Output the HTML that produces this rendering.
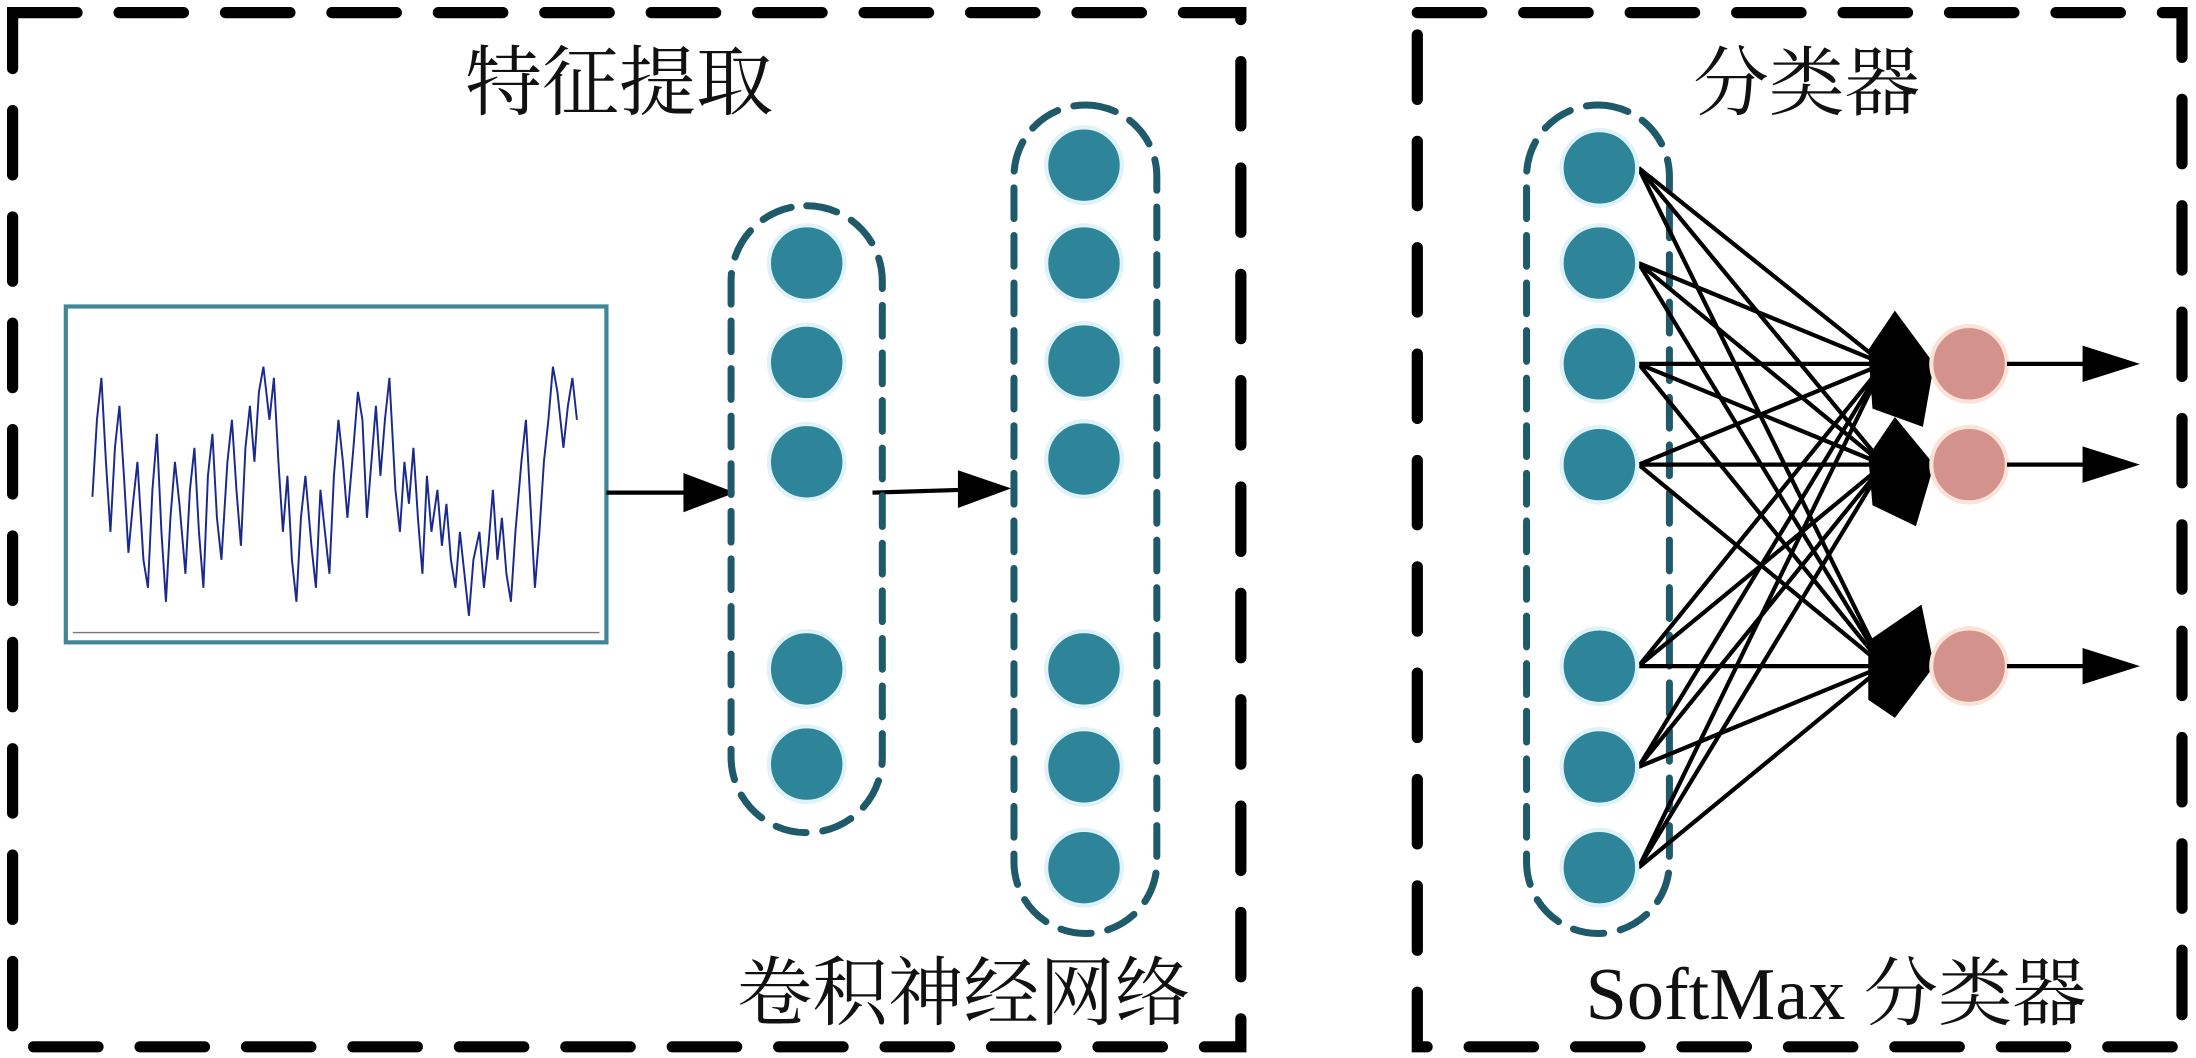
<!DOCTYPE html>
<html><head><meta charset="utf-8"><style>
html,body{margin:0;padding:0;background:#fff;}
svg{display:block;}
text{font-family:"Liberation Serif","Noto Serif CJK SC",serif;fill:#111;}
</style></head><body>
<svg width="2196" height="1058" viewBox="0 0 1568 756" preserveAspectRatio="none" xmlns="http://www.w3.org/2000/svg">
<rect x="0" y="0" width="1568" height="756" fill="#fff"/>
<rect x="9" y="9" width="877" height="739" fill="none" stroke="#000" stroke-width="8" stroke-dasharray="46 30" stroke-linecap="round"/>
<rect x="1012" y="9" width="546" height="739" fill="none" stroke="#000" stroke-width="8" stroke-dasharray="46 30" stroke-linecap="round"/>

<text x="442" y="78" font-size="55" text-anchor="middle">特征提取</text>
<text x="1290" y="78" font-size="54" text-anchor="middle">分类器</text>
<text x="688" y="728" font-size="54" text-anchor="middle">卷积神经网络</text>
<text x="1311" y="728" font-size="53" text-anchor="middle">SoftMax 分类器</text>

<rect x="47" y="219" width="386" height="240" fill="#fff" stroke="#3f8797" stroke-width="3"/>
<line x1="52" y1="452" x2="428" y2="452" stroke="#777" stroke-width="1"/>
<polyline transform="translate(66,0) scale(1.071,1) translate(-66,0)" fill="none" stroke="#1a2a8c" stroke-width="1.3" points="66,355 69,300 72,270 75,330 78,380 81,320 84,290 87,340 90,395 93,360 96,330 100,400 103,420 106,350 109,310 112,380 115,430 118,370 121,330 124,360 128,410 131,350 134,320 137,380 140,420 143,340 146,310 149,370 152,400 156,330 159,300 162,350 165,390 168,320 171,290 174,330 177,280 180,262 184,300 187,270 190,330 193,380 196,340 199,400 202,430 205,370 208,340 212,390 215,420 218,350 221,380 224,410 227,340 230,300 233,330 236,370 240,320 243,280 246,300 249,370 252,330 255,290 258,340 261,300 264,270 268,350 271,380 274,330 277,360 280,320 283,370 286,410 289,340 292,380 296,350 299,390 302,360 305,400 308,420 311,380 314,410 317,440 320,400 324,380 327,420 330,390 333,350 336,400 339,370 342,410 345,430 348,380 352,330 355,300 358,360 361,420 364,380 367,330 370,300 373,262 376,280 380,320 383,290 386,270 389,300"/>

<line x1="433" y1="352" x2="492" y2="352" stroke="#000" stroke-width="3"/>
<polygon points="488,338 525,352 488,366" fill="#000"/>
<line x1="623" y1="352" x2="688" y2="350" stroke="#000" stroke-width="3"/>
<polygon points="684,336 722,349 684,363" fill="#000"/>

<g fill="none" stroke="#1f5a6a" stroke-width="5" stroke-dasharray="22 12" stroke-linecap="round">
<rect x="522" y="147" width="108" height="448" rx="54"/>
<rect x="724" y="75" width="102" height="592" rx="51"/>
<rect x="1090" y="75" width="102" height="592" rx="51"/>
</g>

<g fill="#2e8499" stroke="#dff2f8" stroke-width="3">
<circle cx="576" cy="188" r="27"/><circle cx="576" cy="259" r="27"/><circle cx="576" cy="330" r="27"/>
<circle cx="576" cy="478" r="27"/><circle cx="576" cy="546" r="27"/>
<circle cx="774" cy="118" r="27"/><circle cx="774" cy="188" r="27"/><circle cx="774" cy="258" r="27"/><circle cx="774" cy="328" r="27"/>
<circle cx="774" cy="478" r="27"/><circle cx="774" cy="548" r="27"/><circle cx="774" cy="620" r="27"/>
</g>

<g stroke="#000" stroke-width="3">
<line x1="1170" y1="120" x2="1345" y2="260"/><line x1="1170" y1="120" x2="1345" y2="332"/><line x1="1170" y1="120" x2="1345" y2="476"/>
<line x1="1170" y1="188" x2="1345" y2="260"/><line x1="1170" y1="188" x2="1345" y2="332"/><line x1="1170" y1="188" x2="1345" y2="476"/>
<line x1="1170" y1="260" x2="1345" y2="260"/><line x1="1170" y1="260" x2="1345" y2="332"/><line x1="1170" y1="260" x2="1345" y2="476"/>
<line x1="1170" y1="332" x2="1345" y2="260"/><line x1="1170" y1="332" x2="1345" y2="332"/><line x1="1170" y1="332" x2="1345" y2="476"/>
<line x1="1170" y1="476" x2="1345" y2="260"/><line x1="1170" y1="476" x2="1345" y2="332"/><line x1="1170" y1="476" x2="1345" y2="476"/>
<line x1="1170" y1="548" x2="1345" y2="260"/><line x1="1170" y1="548" x2="1345" y2="332"/><line x1="1170" y1="548" x2="1345" y2="476"/>
<line x1="1170" y1="620" x2="1345" y2="260"/><line x1="1170" y1="620" x2="1345" y2="332"/><line x1="1170" y1="620" x2="1345" y2="476"/>
</g>

<g fill="#2e8499" stroke="#dff2f8" stroke-width="3">
<circle cx="1142" cy="120" r="27"/><circle cx="1142" cy="188" r="27"/><circle cx="1142" cy="260" r="27"/><circle cx="1142" cy="332" r="27"/>
<circle cx="1142" cy="476" r="27"/><circle cx="1142" cy="548" r="27"/><circle cx="1142" cy="620" r="27"/>
</g>

<g fill="#000">
<polygon points="1353,222 1381,260 1373,305 1337,292 1334,250"/>
<polygon points="1353,298 1381,332 1368,376 1337,361 1334,326"/>
<polygon points="1372,432 1381,476 1353,513 1334,500 1334,458"/>
</g>

<g fill="#d4928c" stroke="#fbe3d8" stroke-width="3">
<circle cx="1406" cy="260" r="27"/><circle cx="1406" cy="332" r="27"/><circle cx="1406" cy="476" r="27"/>
</g>

<g stroke="#000" stroke-width="3">
<line x1="1433" y1="260" x2="1490" y2="260"/><line x1="1433" y1="332" x2="1490" y2="332"/><line x1="1433" y1="476" x2="1490" y2="476"/>
</g>
<g fill="#000">
<polygon points="1487,247 1528,260 1487,273"/>
<polygon points="1487,319 1528,332 1487,345"/>
<polygon points="1487,463 1528,476 1487,489"/>
</g>
</svg>
</body></html>
